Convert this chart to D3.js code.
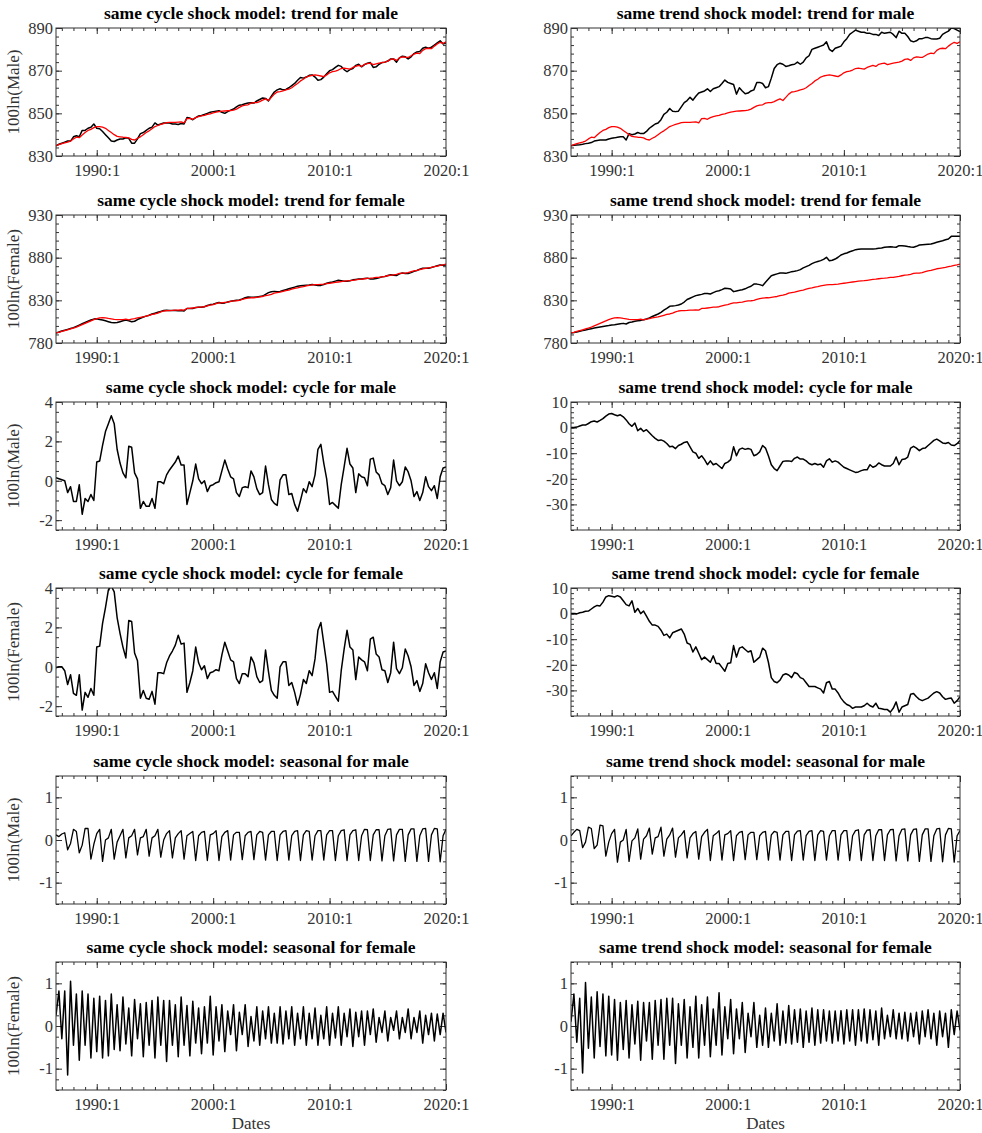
<!DOCTYPE html>
<html><head><meta charset="utf-8">
<script src="https://cdn.jsdelivr.net/npm/d3@7"></script>
<style>body{margin:0;background:#fff} svg{display:block}</style>
</head><body><svg id="c" width="982" height="1133"></svg>
<script>
// ---------- time index (quarterly, 1986:3 .. 2020:1) ----------
const startYear = 1986, startQuarter = 3, nObs = 135;
const xTickValues = [1990, 2000, 2010, 2020];
const xTickLabels = ["1990:1", "2000:1", "2010:1", "2020:1"];

// ---------- trend: male ----------
const trendMaleRed = [
 834.8, 835.3,
 835.8, 836.2, 836.5, 837.0,
 838.0, 838.8, 838.6, 839.8,
 841.0, 842.0, 842.5, 843.3,
 843.8, 843.8, 843.5, 843.0,
 842.0, 841.0, 840.0, 839.2,
 839.0, 838.8, 838.7, 838.5,
 837.8, 837.5, 838.3, 839.0,
 840.0, 841.0, 841.8, 842.8,
 843.8, 844.3, 844.8, 845.2,
 845.6, 845.8, 845.8, 845.8,
 845.9, 846.0, 845.5, 847.5,
 847.6, 847.2, 848.0, 848.5,
 848.8, 849.0, 849.5, 849.8,
 850.2, 850.6, 850.8, 851.0,
 851.1, 851.2, 851.3, 851.5,
 852.0, 852.8, 853.5, 853.8,
 854.0, 854.8, 855.0, 855.0,
 855.5, 856.2, 856.8, 856.0,
 857.5, 859.0, 860.0, 860.2,
 860.5, 861.0, 861.3, 862.0,
 863.0, 864.0, 865.2, 866.0,
 867.0, 867.5, 867.8, 868.0,
 867.8, 867.5, 867.2, 868.0,
 869.0, 869.5, 869.8, 870.3,
 871.0, 871.2, 871.0, 870.7,
 871.5, 872.0, 872.5, 872.0,
 873.0, 873.3, 873.5, 872.8,
 873.2, 873.5, 873.8, 874.0,
 874.5, 875.3, 875.5, 874.8,
 876.0, 876.5, 876.3, 876.2,
 877.0, 877.8, 878.2, 878.0,
 879.5, 880.3, 880.5, 880.3,
 881.5, 882.5, 883.3, 882.8,
 883.5];
const trendMaleCycleModel = [
 834.8, 835.5,
 836.0, 836.5, 837.0, 837.0,
 839.0, 839.5, 839.0, 842.0,
 842.0, 843.0, 843.5, 845.0,
 843.0, 842.8, 841.5, 840.0,
 838.5, 837.0, 836.8, 837.5,
 838.0, 838.0, 838.5, 838.3,
 836.0, 836.0, 838.0, 840.5,
 841.0, 842.0, 843.0, 843.5,
 845.5, 844.5, 845.0, 845.5,
 845.5, 845.5, 845.0, 845.0,
 844.8, 845.2, 845.0, 848.0,
 847.8, 847.0, 848.0, 848.8,
 849.0, 849.5, 850.0, 850.5,
 850.8, 851.0, 851.2, 850.5,
 850.0, 850.8, 851.5, 852.0,
 853.0, 853.8, 854.0, 854.5,
 854.8, 855.0, 854.8, 855.8,
 856.5, 857.2, 857.0, 855.8,
 858.0, 860.0, 861.0, 861.5,
 861.0, 861.2, 862.0, 863.0,
 864.0, 865.5, 866.8, 866.5,
 867.0, 867.8, 868.0, 867.0,
 865.5, 865.8, 867.0, 868.5,
 870.0, 870.5, 871.5, 872.5,
 872.0, 870.5, 869.5, 870.5,
 871.0, 872.5, 873.0, 871.8,
 872.8, 873.5, 873.8, 871.5,
 871.8, 873.0, 873.8, 874.0,
 874.5, 875.5, 875.5, 874.0,
 876.0, 876.8, 876.5, 875.5,
 876.5, 878.0, 878.8, 879.0,
 880.5, 881.0, 880.5, 881.0,
 882.0, 883.0, 884.0, 882.5,
 883.0];
const trendMaleTrendModel = [
 834.8, 835.0,
 835.2, 835.3, 835.5, 835.8,
 836.0, 836.3, 837.0, 837.3,
 837.5, 837.5, 837.5, 838.0,
 838.3, 838.5, 838.8, 839.0,
 839.0, 837.5, 840.5, 840.0,
 840.3, 841.0, 840.5, 840.5,
 841.5, 843.0, 844.0, 845.0,
 845.5, 847.0, 849.5, 850.5,
 852.3, 851.0, 850.8, 851.0,
 853.0, 855.0, 856.0, 857.5,
 856.2, 858.0, 859.5, 860.0,
 860.5, 861.5, 860.2, 861.5,
 862.0, 862.5, 864.0, 865.6,
 864.5, 864.0, 863.5, 859.0,
 862.0, 860.5, 859.2, 859.5,
 860.5, 861.0, 864.5, 864.5,
 864.0, 862.0, 862.5, 866.5,
 871.0, 872.8, 873.5, 873.0,
 872.0, 872.3, 872.8, 873.0,
 874.0, 873.0, 874.0, 876.0,
 877.0, 880.0, 880.5, 881.0,
 881.5, 882.0, 883.5, 880.0,
 879.0, 880.5, 881.0, 881.5,
 883.5, 885.0, 887.0, 888.0,
 889.0, 888.5, 888.0, 888.0,
 887.5, 887.5, 887.0, 887.0,
 886.5, 888.0, 887.5, 887.8,
 888.0, 887.0, 885.5, 888.5,
 887.5, 887.5, 886.0, 884.0,
 883.5, 884.0, 885.0, 885.0,
 885.5, 885.5, 885.0, 884.8,
 884.8, 885.2, 887.0, 887.8,
 888.5, 890.0, 889.7, 889.0,
 888.3];

// ---------- trend: female ----------
const trendFemaleRed = [
 791.8, 792.5,
 793.5, 794.5, 795.5, 796.5,
 797.5, 798.5, 800.0, 801.5,
 803.0, 804.5, 806.0, 807.5,
 808.5, 809.5, 809.8, 809.5,
 808.8, 808.3, 807.8, 807.5,
 807.3, 807.5, 808.0, 807.0,
 808.0, 808.5, 809.5, 810.0,
 810.5, 811.5, 812.5, 813.5,
 814.0, 815.0, 816.5, 817.5,
 818.0, 818.0, 818.2, 818.5,
 818.5, 818.7, 818.5, 820.5,
 820.5, 821.0, 821.5, 822.0,
 822.0, 822.5, 823.5, 824.5,
 825.0, 826.0, 827.0, 827.0,
 827.5, 828.0, 828.8, 829.3,
 829.5, 830.0, 831.0, 832.0,
 832.5, 833.0, 833.0, 833.5,
 834.0, 834.5, 835.5, 836.0,
 837.0, 838.5, 839.0, 839.5,
 840.5, 841.5, 842.0, 843.0,
 844.0, 844.5, 845.5, 846.0,
 847.0, 847.5, 848.0, 848.3,
 848.5, 848.8, 849.0, 849.5,
 850.0, 850.5, 851.0, 851.5,
 852.0, 852.5, 852.8, 853.0,
 853.5, 854.0, 854.5, 854.8,
 855.3, 855.8, 856.0, 856.3,
 856.8, 857.0, 857.5, 858.0,
 858.8, 859.5, 859.8, 860.5,
 861.5, 862.0, 862.0, 862.5,
 863.5, 864.5, 865.0, 866.0,
 867.0, 867.5, 868.0, 868.5,
 869.5, 870.0, 871.0, 871.5,
 872.5];
const trendFemaleCycleModel = [
 791.8, 792.8,
 794.0, 795.0, 796.0, 797.0,
 798.0, 799.5, 801.0, 802.5,
 804.0, 805.5, 807.0, 808.0,
 808.5, 807.5, 807.0, 806.0,
 805.0, 804.0, 803.8, 804.0,
 805.0, 806.0, 806.8, 806.0,
 805.0, 805.5, 807.5, 809.0,
 810.5, 811.5, 812.5, 814.0,
 815.0, 816.0, 817.0, 818.0,
 818.5, 818.0, 818.0, 818.0,
 817.8, 818.0, 817.5, 820.5,
 820.5, 820.5, 821.5, 822.0,
 822.0, 822.5, 824.0, 825.0,
 825.5, 826.5, 827.5, 826.5,
 827.0, 828.0, 829.0, 829.5,
 830.0, 830.5, 831.5, 833.0,
 834.0, 833.5, 833.5, 834.0,
 834.5, 835.0, 837.0, 839.0,
 840.0, 840.5, 840.0, 840.5,
 841.5, 842.5, 843.5, 844.5,
 845.5, 846.5, 847.0, 847.5,
 847.8, 848.0, 848.5, 848.0,
 847.5, 847.5, 848.5, 850.0,
 851.0, 851.5, 852.5, 853.5,
 853.0, 852.5, 852.5, 853.0,
 854.0, 854.5, 855.0, 855.0,
 855.5, 856.0, 855.0, 855.0,
 855.5, 856.5, 857.5, 858.0,
 859.0, 860.0, 859.5, 859.0,
 861.0, 862.0, 861.5, 861.5,
 862.5, 864.0, 865.0, 866.5,
 867.5, 867.5, 867.5, 868.5,
 869.5, 870.5, 871.5, 871.0,
 871.5];
const trendFemaleTrendModel = [
 791.7, 792.3,
 793.0, 793.8, 794.5, 795.3,
 796.0, 796.8, 797.5, 798.2,
 798.8, 799.4, 800.0, 800.5,
 801.1, 801.5, 802.0, 802.5,
 803.0, 802.3, 804.0, 804.5,
 805.5, 806.0, 806.5, 807.2,
 808.1, 809.5, 811.0, 812.5,
 814.0, 816.0, 818.5, 820.5,
 823.0, 823.5, 823.8, 824.5,
 825.7, 828.0, 831.0, 832.5,
 834.0, 835.5, 836.3, 837.0,
 838.0, 838.0, 837.4, 839.0,
 840.5, 841.3, 842.5, 844.1,
 843.8, 843.3, 840.2, 841.0,
 841.7, 842.5, 843.5, 845.2,
 846.5, 849.1, 849.0, 848.4,
 847.2, 851.1, 855.0, 858.9,
 860.0, 861.0, 862.0, 862.0,
 861.6, 862.5, 863.6, 864.0,
 864.8, 866.0, 868.0, 869.5,
 871.0, 873.0, 874.5, 875.5,
 876.5, 878.0, 880.4, 876.5,
 877.0, 878.4, 880.5, 883.1,
 884.5, 885.5, 887.0, 888.0,
 889.4, 889.8, 890.2, 890.2,
 890.2, 890.2, 890.2, 890.5,
 890.9, 891.3, 892.2, 892.6,
 892.9, 892.5, 892.2, 894.1,
 894.0, 893.7, 893.0, 892.5,
 892.2, 893.3, 894.8, 895.2,
 895.5, 895.8, 896.0, 897.0,
 898.0, 899.0, 899.9, 900.9,
 901.9, 905.0, 905.2, 905.0,
 905.0];

// ---------- cycle ----------
const cycleMaleCycleModel = [
 0.15, 0.10, 0.05, 0.00, -0.60, -0.30, -1.05, -1.05, -0.20, -1.70,
 -0.90, -1.05, -0.70, -1.00, 0.95, 1.00, 1.80, 2.50, 2.90, 3.30,
 2.90, 1.60, 0.90, 0.40, 0.15, 1.75, 1.70, 0.40, 0.10, -1.40,
 -1.05, -1.30, -1.30, -0.90, -1.40, -0.05, -0.05, -0.15, 0.30, 0.55,
 0.75, 0.95, 1.25, 0.80, 0.80, -1.20, -0.60, 0.00, 0.85, 0.10,
 -0.15, 0.00, -0.55, -0.25, -0.20, -0.10, -0.05, 0.50, 1.05, 0.60,
 0.20, 0.10, -0.60, -0.80, -0.35, -0.30, -0.35, 0.50, 0.20, -0.40,
 -0.70, -0.60, 0.75, -0.20, -0.95, -1.15, -1.25, 0.05, 0.30, 0.30,
 -0.70, -0.65, -1.20, -1.55, -1.00, -0.40, -0.60, -0.05, -0.30, 0.30,
 1.60, 1.85, 0.90, 0.10, -1.20, -1.10, -1.25, -1.40, -0.20, 0.70,
 1.65, 0.85, 0.65, -0.60, 0.35, 0.20, 0.15, -0.25, 1.10, 1.15,
 0.45, 0.30, -0.15, -0.25, -0.70, -0.35, 1.05, 0.00, -0.25, -0.05,
 0.70, 0.45, 0.00, -0.80, -0.55, -1.00, -0.60, 0.20, -0.30, -0.50,
 -0.25, -0.90, 0.20, 0.65, 0.70];
const cycleFemaleCycleModel = [
 -0.05, 0.00, 0.00, -0.20, -0.90, -0.40, -1.35, -1.45, -0.40, -2.20,
 -1.30, -1.55, -1.10, -1.45, 1.00, 1.05, 2.20, 3.00, 3.90, 4.10,
 3.80, 2.50, 1.70, 1.00, 0.45, 2.35, 2.30, 0.70, 0.30, -1.60,
 -1.20, -1.60, -1.65, -1.25, -1.90, -0.30, -0.30, -0.35, 0.20, 0.55,
 0.80, 1.10, 1.60, 1.15, 1.20, -1.30, -0.80, -0.20, 1.00, 0.20,
 -0.15, 0.05, -0.60, -0.30, -0.25, -0.15, -0.20, 0.60, 1.25, 0.80,
 0.35, 0.25, -0.60, -0.85, -0.35, -0.35, -0.50, 0.50, 0.20, -0.50,
 -0.80, -0.70, 0.85, -0.25, -1.20, -1.45, -1.60, 0.00, 0.25, 0.25,
 -0.95, -0.80, -1.30, -1.95, -1.40, -0.65, -0.85, -0.20, -0.45, 0.40,
 1.85, 2.25, 1.20, 0.15, -1.30, -1.25, -1.50, -1.75, -0.20, 0.90,
 1.85, 1.00, 0.85, -0.65, 0.50, 0.35, 0.25, -0.20, 1.40, 1.50,
 0.65, 0.50, -0.15, -0.20, -0.80, -0.30, 1.25, -0.10, -0.35, -0.05,
 0.90, 0.55, 0.00, -0.95, -0.70, -1.25, -0.85, 0.15, -0.30, -0.65,
 -0.30, -1.10, 0.25, 0.75, 0.80];
const cycleMaleTrendModel = [
 0.0, 0.0, 0.2, 0.6, 1.0, 1.0, 1.6, 2.3, 2.6, 2.2,
 2.8, 3.5, 4.5, 5.3, 5.5, 5.0, 4.6, 5.0, 4.2, 3.0,
 1.5, 0.5, 1.8, -1.2, -0.3, -1.5, -0.8, -2.0, -3.2, -4.2,
 -5.0, -4.8, -5.3, -6.2, -7.5, -7.3, -8.2, -7.0, -6.5, -5.8,
 -5.5, -7.5, -9.5, -10.0, -12.0, -11.0, -12.5, -14.5, -13.0, -14.5,
 -14.0, -15.0, -16.0, -14.0, -13.5, -12.5, -7.5, -11.0, -8.5, -8.0,
 -8.5, -8.2, -8.5, -11.0, -10.5, -9.5, -7.0, -8.0, -11.0, -14.5,
 -16.0, -16.8, -15.0, -13.2, -13.0, -13.0, -13.2, -12.0, -11.5, -12.3,
 -12.3, -13.0, -14.0, -14.5, -14.0, -14.5, -14.2, -15.5, -13.0, -12.2,
 -13.5, -13.0, -13.5, -14.5, -15.5, -16.0, -16.5, -17.0, -17.5, -17.3,
 -16.8, -16.5, -16.5, -14.5, -15.5, -15.0, -13.8, -14.5, -15.0, -15.0,
 -15.0, -14.0, -11.5, -14.5, -12.5, -12.3, -11.5, -8.0, -7.3, -8.0,
 -9.0, -8.2, -8.0, -7.0, -6.0, -5.0, -4.5, -5.2, -6.0, -6.2,
 -5.8, -6.8, -7.0, -6.3, -5.0];
const cycleFemaleTrendModel = [
 0.0, 0.0, -0.1, 0.3, 0.5, 0.9, 1.0, 1.8, 2.6, 3.2,
 3.0, 4.5, 6.5, 7.0, 6.8, 6.5, 7.0, 6.5, 5.0, 3.5,
 3.0, 5.0, 0.5, 2.0, 0.0, 1.0, -1.0, -3.0, -4.5, -4.5,
 -5.0, -6.5, -8.5, -8.0, -9.5, -7.5, -7.0, -6.5, -6.0, -8.0,
 -11.5, -12.0, -15.0, -13.0, -15.5, -18.0, -17.0, -18.0, -19.0, -16.5,
 -19.5, -19.5, -21.0, -22.5, -19.5, -19.2, -12.5, -17.0, -13.5, -13.0,
 -14.0, -15.0, -14.5, -19.0, -18.0, -17.0, -13.5, -14.5, -19.0, -25.0,
 -26.5, -27.0, -26.0, -24.0, -23.5, -24.0, -25.0, -23.0, -23.5, -25.0,
 -25.5, -27.0, -28.5, -28.5, -28.5, -29.0, -29.5, -31.0, -27.0, -26.5,
 -29.5, -29.5, -31.0, -33.0, -34.5, -35.5, -36.0, -37.0, -36.5, -36.5,
 -36.5, -36.0, -35.0, -36.0, -36.5, -35.0, -37.0, -37.2, -37.5, -37.5,
 -38.5, -37.0, -34.5, -38.5, -36.5, -36.0, -35.5, -31.5, -31.2, -32.5,
 -33.5, -34.0, -33.5, -33.0, -32.0, -31.0, -30.5, -31.0, -32.5, -33.5,
 -33.2, -33.0, -35.0, -34.0, -32.5];

// ---------- seasonal ----------
const seasonalMaleCycleModel = [
 0.12, 0.08, 0.14, 0.17, -0.23, -0.08, 0.25, 0.20, -0.30, -0.12,
 0.27, 0.27, -0.45, -0.10, 0.15, 0.25, -0.50, 0.00, 0.05, 0.25,
 -0.45, -0.05, 0.10, 0.25, -0.42, 0.05, 0.10, 0.25, -0.35, 0.05,
 0.08, 0.25, -0.38, 0.05, 0.10, 0.25, -0.40, 0.00, 0.15, 0.22,
 -0.42, 0.05, 0.15, 0.22, -0.45, 0.10, 0.15, 0.20, -0.48, 0.10,
 0.18, 0.20, -0.48, 0.12, 0.15, 0.22, -0.48, 0.08, 0.18, 0.22,
 -0.47, 0.12, 0.18, 0.18, -0.46, 0.10, 0.18, 0.20, -0.46, 0.12,
 0.20, 0.18, -0.47, 0.12, 0.20, 0.20, -0.48, 0.12, 0.20, 0.22,
 -0.47, 0.10, 0.20, 0.22, -0.48, 0.12, 0.22, 0.20, -0.47, 0.10,
 0.22, 0.22, -0.47, 0.12, 0.22, 0.22, -0.48, 0.10, 0.22, 0.24,
 -0.48, 0.12, 0.22, 0.24, -0.48, 0.10, 0.25, 0.24, -0.48, 0.12,
 0.24, 0.24, -0.49, 0.10, 0.25, 0.26, -0.49, 0.12, 0.25, 0.25,
 -0.50, 0.12, 0.26, 0.26, -0.50, 0.10, 0.26, 0.27, -0.50, 0.12,
 0.27, 0.26, -0.51, 0.10, 0.25];
const seasonalMaleTrendModel = [
 0.10, 0.18, 0.25, 0.22, -0.18, -0.05, 0.30, 0.27, -0.20, -0.12,
 0.35, 0.33, -0.38, -0.05, 0.15, 0.25, -0.52, -0.05, 0.00, 0.25,
 -0.50, -0.02, 0.05, 0.26, -0.45, 0.02, 0.10, 0.28, -0.33, 0.05,
 0.08, 0.30, -0.38, 0.02, 0.12, 0.28, -0.40, 0.05, 0.12, 0.22,
 -0.42, 0.05, 0.15, 0.20, -0.45, 0.08, 0.18, 0.25, -0.48, 0.10,
 0.15, 0.22, -0.47, 0.12, 0.15, 0.22, -0.48, 0.10, 0.18, 0.20,
 -0.46, 0.12, 0.18, 0.18, -0.46, 0.10, 0.18, 0.20, -0.47, 0.12,
 0.20, 0.18, -0.47, 0.12, 0.20, 0.20, -0.48, 0.12, 0.21, 0.22,
 -0.47, 0.10, 0.20, 0.22, -0.48, 0.12, 0.22, 0.20, -0.47, 0.10,
 0.22, 0.22, -0.47, 0.12, 0.22, 0.22, -0.48, 0.10, 0.22, 0.24,
 -0.48, 0.12, 0.23, 0.24, -0.48, 0.10, 0.24, 0.24, -0.48, 0.12,
 0.24, 0.25, -0.49, 0.10, 0.25, 0.26, -0.49, 0.12, 0.25, 0.26,
 -0.50, 0.12, 0.26, 0.26, -0.50, 0.10, 0.26, 0.27, -0.51, 0.12,
 0.27, 0.26, -0.52, 0.10, 0.22];
const seasonalFemaleCycleModel = [
 0.25, 0.82, -0.30, 0.82, -1.15, 1.05, -0.45, 0.75, -0.80, 0.82,
 -0.45, 0.75, -0.75, 0.65, -0.60, 0.70, -0.75, 0.60, -0.70, 0.75,
 -0.55, 0.50, -0.58, 0.68, -0.42, 0.42, -0.70, 0.62, -0.30, 0.52,
 -0.72, 0.55, -0.45, 0.60, -0.75, 0.68, -0.45, 0.60, -0.83, 0.60,
 -0.45, 0.50, -0.72, 0.68, -0.45, 0.48, -0.70, 0.58, -0.40, 0.42,
 -0.65, 0.45, -0.40, 0.70, -0.68, 0.45, -0.35, 0.50, -0.60, 0.35,
 -0.20, 0.50, -0.58, 0.32, -0.20, 0.50, -0.48, 0.22, -0.35, 0.45,
 -0.45, 0.35, -0.30, 0.45, -0.40, 0.30, -0.40, 0.45, -0.42, 0.35,
 -0.30, 0.45, -0.45, 0.30, -0.30, 0.45, -0.45, 0.30, -0.30, 0.42,
 -0.45, 0.25, -0.30, 0.45, -0.45, 0.30, -0.28, 0.45, -0.45, 0.30,
 -0.25, 0.40, -0.48, 0.32, -0.25, 0.35, -0.45, 0.35, -0.20, 0.40,
 -0.38, 0.20, -0.15, 0.35, -0.35, 0.20, -0.10, 0.35, -0.30, 0.20,
 -0.15, 0.40, -0.30, 0.20, -0.15, 0.35, -0.40, 0.25, -0.20, 0.30,
 -0.35, 0.28, -0.20, 0.30, -0.15];
const seasonalFemaleTrendModel = [
 0.10, 0.75, -0.38, 0.65, -1.10, 1.02, -0.52, 0.68, -0.75, 0.80,
 -0.48, 0.75, -0.70, 0.70, -0.68, 0.62, -0.80, 0.55, -0.55, 0.60,
 -0.75, 0.50, -0.42, 0.58, -0.80, 0.55, -0.35, 0.55, -0.78, 0.60,
 -0.45, 0.62, -0.78, 0.65, -0.45, 0.65, -0.88, 0.52, -0.45, 0.62,
 -0.75, 0.45, -0.50, 0.70, -0.75, 0.50, -0.45, 0.68, -0.72, 0.40,
 -0.45, 0.78, -0.68, 0.45, -0.30, 0.62, -0.65, 0.40, -0.30, 0.55,
 -0.62, 0.30, -0.25, 0.55, -0.50, 0.25, -0.45, 0.42, -0.50, 0.30,
 -0.35, 0.52, -0.45, 0.35, -0.40, 0.48, -0.42, 0.38, -0.38, 0.40,
 -0.50, 0.35, -0.38, 0.42, -0.45, 0.38, -0.40, 0.38, -0.35, 0.35,
 -0.40, 0.35, -0.35, 0.36, -0.42, 0.38, -0.35, 0.38, -0.45, 0.38,
 -0.35, 0.40, -0.40, 0.38, -0.32, 0.35, -0.45, 0.42, -0.30, 0.25,
 -0.25, 0.38, -0.30, 0.30, -0.30, 0.32, -0.35, 0.30, -0.25, 0.32,
 -0.42, 0.35, -0.25, 0.38, -0.30, 0.30, -0.45, 0.35, -0.25, 0.30,
 -0.50, 0.38, -0.20, 0.35, -0.10];

// ---------- axis ticks ----------
const yTicksTrendMale = [830, 850, 870, 890];
const yTicksTrendFemale = [780, 830, 880, 930];
const yTicksCycleSmall = [-2, 0, 2, 4];
const yTicksCycleLarge = [-30, -20, -10, 0, 10];
const yTicksSeasonal = [-1, 0, 1];

// ---------- layout ----------
const colX = [[56, 446], [571, 960]];
const rowTop = [28, 215, 402, 588, 776, 962];
const plotH = 128;
const FONT = "'Liberation Serif','Times New Roman',Times,serif";
const AX = "#333";

const dates = d3.range(nObs).map(i => startYear + (startQuarter - 1) / 4 + i / 4);

const panels = [
 {r:0,c:0,title:"same cycle shock model: trend for male",yl:"100ln(Male)",dom:[830,890],ticks:yTicksTrendMale,minor:4,
  s:[[trendMaleCycleModel,"#000",1.5],[trendMaleRed,"#f00",1.3]]},
 {r:0,c:1,title:"same trend shock model: trend for male",yl:null,dom:[830,890],ticks:yTicksTrendMale,minor:4,
  s:[[trendMaleTrendModel,"#000",1.5],[trendMaleRed,"#f00",1.3]]},
 {r:1,c:0,title:"same cycle shock model: trend for female",yl:"100ln(Female)",dom:[780,930],ticks:yTicksTrendFemale,minor:10,
  s:[[trendFemaleCycleModel,"#000",1.5],[trendFemaleRed,"#f00",1.3]]},
 {r:1,c:1,title:"same trend shock model: trend for female",yl:null,dom:[780,930],ticks:yTicksTrendFemale,minor:10,
  s:[[trendFemaleTrendModel,"#000",1.5],[trendFemaleRed,"#f00",1.3]]},
 {r:2,c:0,title:"same cycle shock model: cycle for male",yl:"100ln(Male)",dom:[-2.5,4],ticks:yTicksCycleSmall,minor:0.5,
  s:[[cycleMaleCycleModel,"#000",1.5]]},
 {r:2,c:1,title:"same trend shock model: cycle for male",yl:null,dom:[-40,10],ticks:yTicksCycleLarge,minor:2,
  s:[[cycleMaleTrendModel,"#000",1.5]]},
 {r:3,c:0,title:"same cycle shock model: cycle for female",yl:"100ln(Female)",dom:[-2.5,4],ticks:yTicksCycleSmall,minor:0.5,
  s:[[cycleFemaleCycleModel,"#000",1.5]]},
 {r:3,c:1,title:"same trend shock model: cycle for female",yl:null,dom:[-40,10],ticks:yTicksCycleLarge,minor:2,
  s:[[cycleFemaleTrendModel,"#000",1.5]]},
 {r:4,c:0,title:"same cycle shock model: seasonal for male",yl:"100ln(Male)",dom:[-1.5,1.5],ticks:yTicksSeasonal,minor:0.25,
  s:[[seasonalMaleCycleModel,"#000",1.3]]},
 {r:4,c:1,title:"same trend shock model: seasonal for male",yl:null,dom:[-1.5,1.5],ticks:yTicksSeasonal,minor:0.25,
  s:[[seasonalMaleTrendModel,"#000",1.3]]},
 {r:5,c:0,title:"same cycle shock model: seasonal for female",yl:"100ln(Female)",dom:[-1.5,1.5],ticks:yTicksSeasonal,minor:0.25,
  s:[[seasonalFemaleCycleModel,"#000",1.5]]},
 {r:5,c:1,title:"same trend shock model: seasonal for female",yl:null,dom:[-1.5,1.5],ticks:yTicksSeasonal,minor:0.25,
  s:[[seasonalFemaleTrendModel,"#000",1.5]]}
];

const svg = d3.select("#c");
const xMinor = d3.range(1987, 2021, 1);

panels.forEach((p, k) => {
  const [x0, x1] = colX[p.c];
  const y0 = rowTop[p.r], y1 = y0 + plotH;
  const x = d3.scaleLinear().domain([dates[0], dates[nObs - 1]]).range([x0, x1]);
  const y = d3.scaleLinear().domain(p.dom).range([y1, y0]);
  const g = svg.append("g");

  const yMinor = d3.range(p.dom[0], p.dom[1] + 1e-9, p.minor).map(v => +v.toFixed(6));

  const styleAxis = sel => {
    sel.attr("font-family", FONT);
    sel.select(".domain").remove();
    sel.selectAll("line").attr("stroke", AX).attr("stroke-width", 1);
    sel.selectAll("text").attr("font-family", FONT).attr("font-size", 16.5).attr("fill", AX);
  };
  // minor ticks
  g.append("g").attr("transform", `translate(0,${y1})`)
    .call(d3.axisBottom(x).tickValues(xMinor).tickSize(-3).tickFormat("")).call(styleAxis);
  g.append("g").attr("transform", `translate(0,${y0})`)
    .call(d3.axisTop(x).tickValues(xMinor).tickSize(-3).tickFormat("")).call(styleAxis);
  g.append("g").attr("transform", `translate(${x0},0)`)
    .call(d3.axisLeft(y).tickValues(yMinor).tickSize(-3).tickFormat("")).call(styleAxis);
  g.append("g").attr("transform", `translate(${x1},0)`)
    .call(d3.axisRight(y).tickValues(yMinor).tickSize(-3).tickFormat("")).call(styleAxis);
  // major ticks
  g.append("g").attr("transform", `translate(0,${y1})`)
    .call(d3.axisBottom(x).tickValues(xTickValues).tickSize(-6).tickPadding(8)
      .tickFormat((d, i) => xTickLabels[i])).call(styleAxis);
  g.append("g").attr("transform", `translate(0,${y0})`)
    .call(d3.axisTop(x).tickValues(xTickValues).tickSize(-6).tickFormat("")).call(styleAxis);
  g.append("g").attr("transform", `translate(${x0},0)`)
    .call(d3.axisLeft(y).tickValues(p.ticks).tickSize(-6).tickPadding(3).tickFormat(d => String(d))).call(styleAxis);
  g.append("g").attr("transform", `translate(${x1},0)`)
    .call(d3.axisRight(y).tickValues(p.ticks).tickSize(-6).tickFormat("")).call(styleAxis);

  // clip + lines
  const cid = "clip" + k;
  svg.append("clipPath").attr("id", cid).append("rect")
    .attr("x", x0).attr("y", y0).attr("width", x1 - x0).attr("height", plotH);
  const line = d3.line().x((d, i) => x(dates[i])).y(d => y(d));
  p.s.forEach(([vals, col, w]) => {
    g.append("path").datum(vals).attr("clip-path", `url(#${cid})`)
      .attr("fill", "none").attr("stroke", col).attr("stroke-width", w)
      .attr("stroke-linejoin", "round").attr("d", line);
  });

  // frame
  g.append("rect").attr("x", x0).attr("y", y0).attr("width", x1 - x0).attr("height", plotH)
    .attr("fill", "none").attr("stroke", AX).attr("stroke-width", 1);

  // title
  g.append("text").attr("x", (x0 + x1) / 2).attr("y", y0 - 9).attr("text-anchor", "middle")
    .attr("font-family", FONT).attr("font-size", 17.5).attr("font-weight", "bold").attr("fill", "#000")
    .text(p.title);

  // y label
  if (p.yl) {
    g.append("text").attr("transform", `translate(19,${(y0 + y1) / 2}) rotate(-90)`)
      .attr("text-anchor", "middle").attr("font-family", FONT).attr("font-size", 17).attr("fill", AX)
      .text(p.yl);
  }
  // x label on last row
  if (p.r === 5) {
    g.append("text").attr("x", (x0 + x1) / 2).attr("y", y1 + 39).attr("text-anchor", "middle")
      .attr("font-family", FONT).attr("font-size", 17).attr("fill", AX).text("Dates");
  }
});
</script>
</body></html>
